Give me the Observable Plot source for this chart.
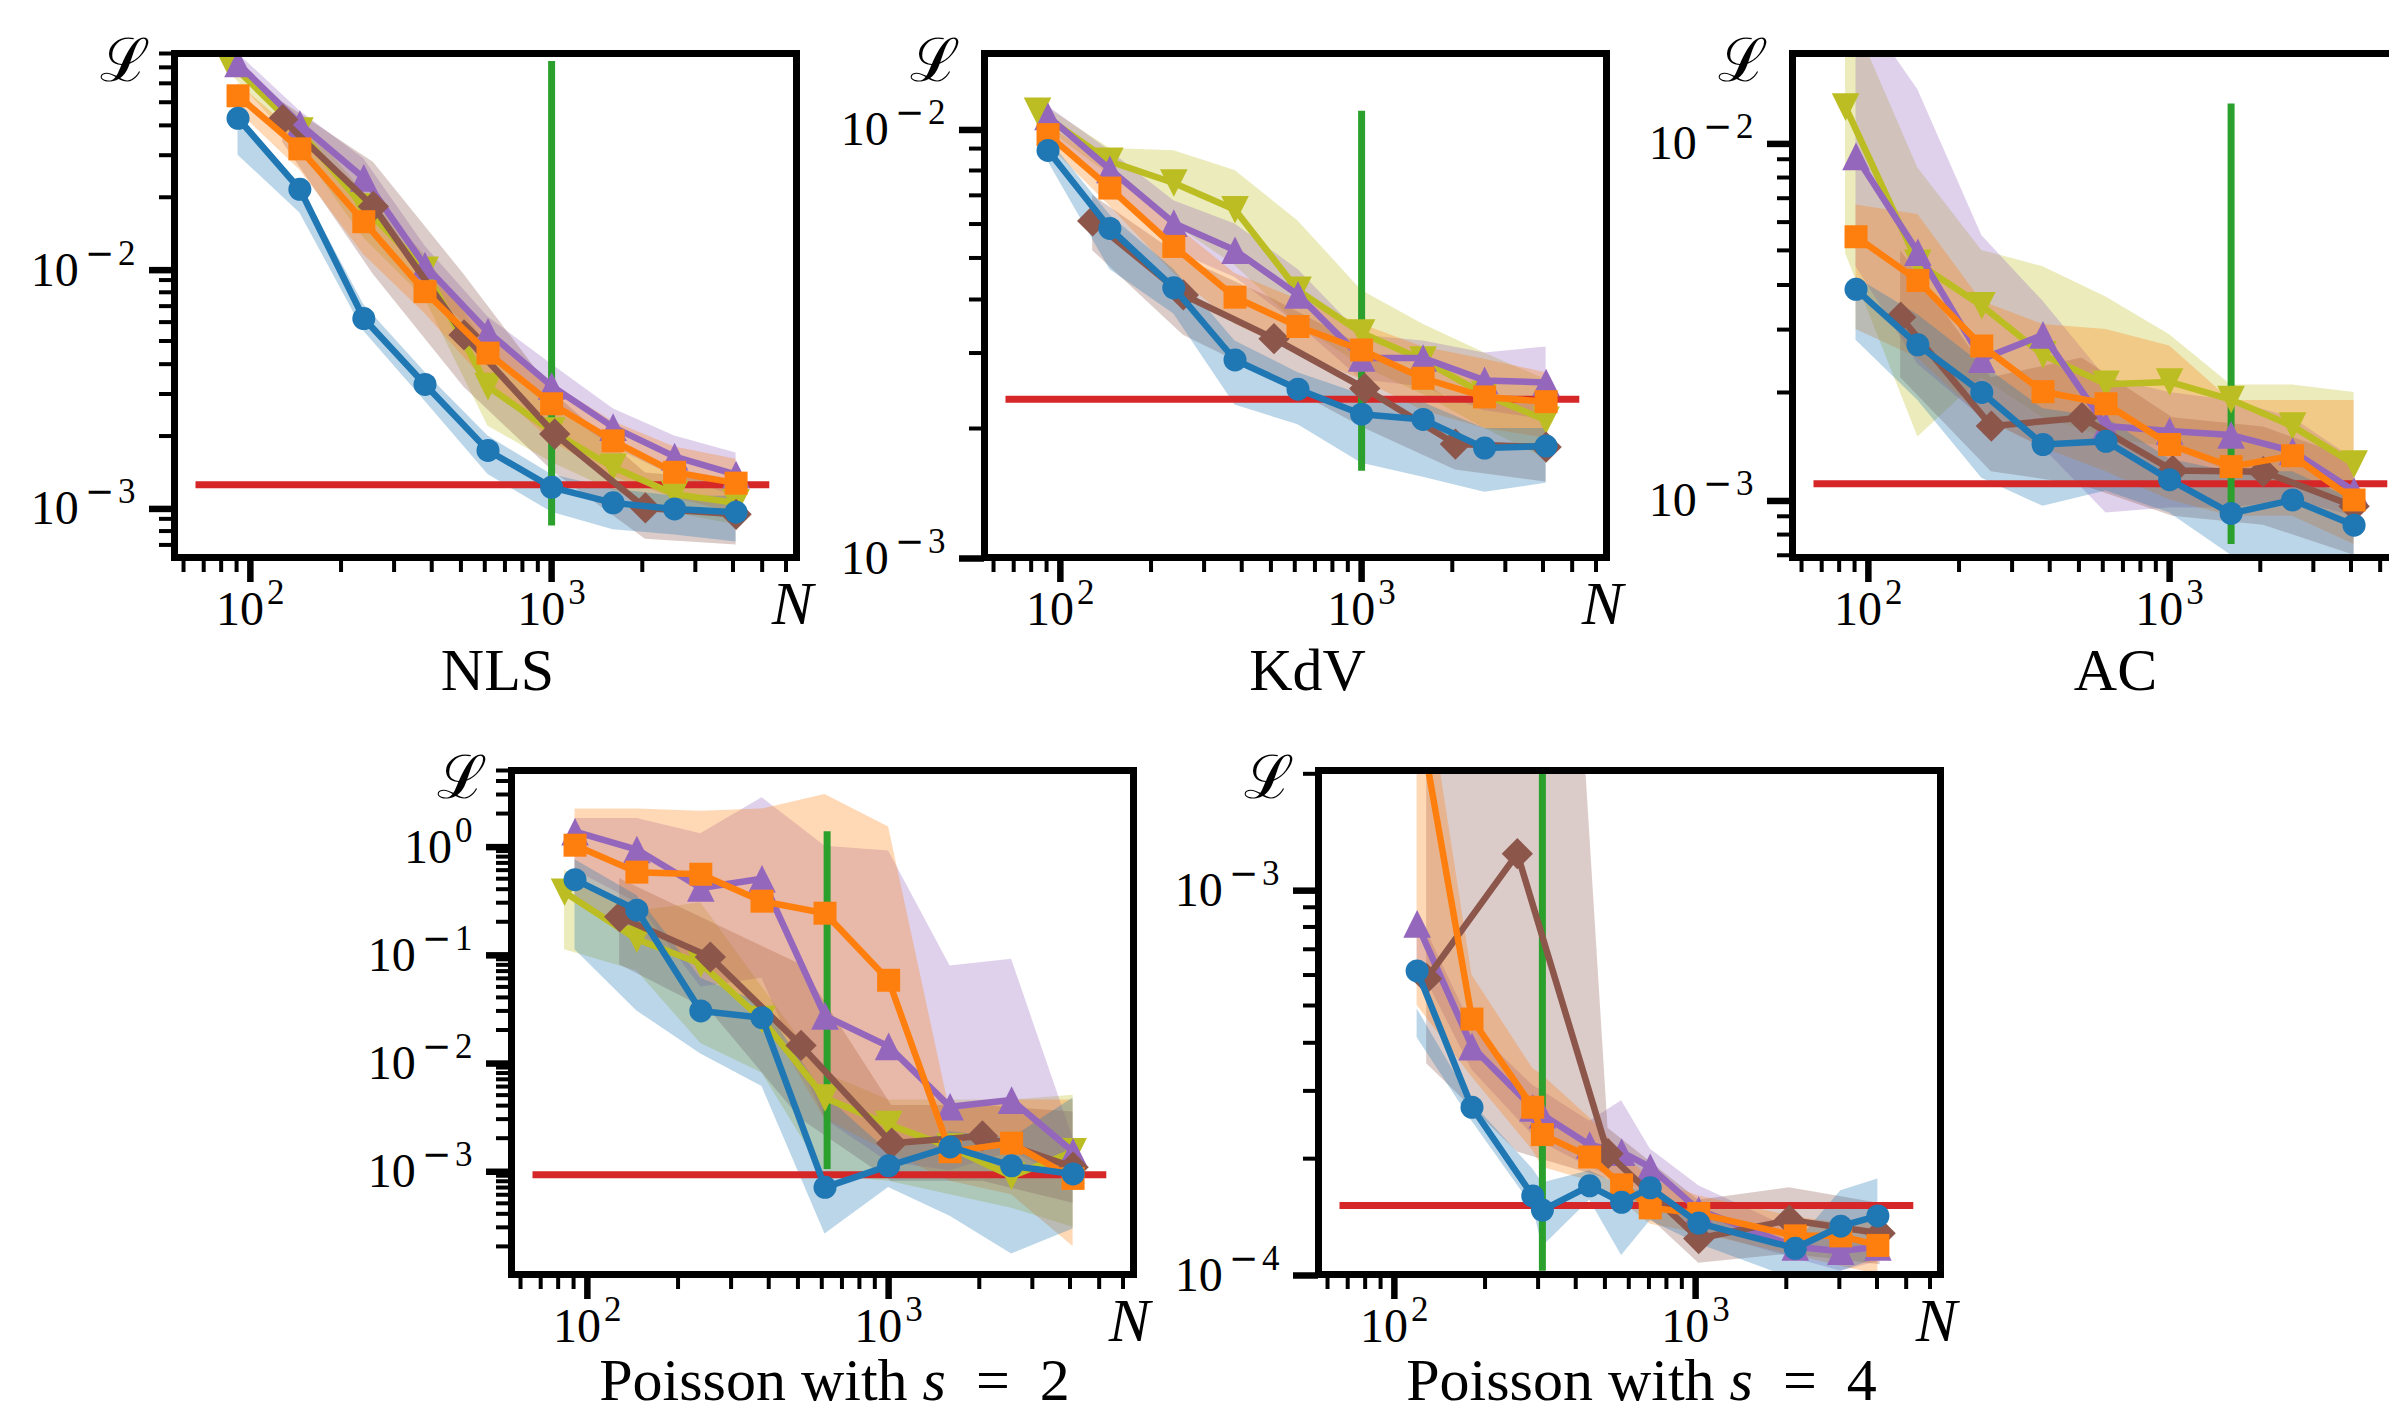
<!DOCTYPE html>
<html>
<head>
<meta charset="utf-8">
<script src="https://cdn.jsdelivr.net/npm/d3@7"></script>
<script src="https://cdn.jsdelivr.net/npm/@observablehq/plot@0.6"></script>
<style>
  html, body { margin: 0; padding: 0; background: #fff; overflow: hidden; }
  #page { position: relative; width: 2389px; height: 1415px; overflow: hidden; background: #fff; }
  .panel { position: absolute; }
  .panel svg { max-width: none !important; display: block; }
</style>
</head>
<body>
<div id="page"></div>
<script>
// ---------------- sample sizes N ----------------
const N_MAIN  = [91, 146, 238, 380, 615, 1000, 1600, 2560, 4096];
const N_OLIVE = [84, 146, 238, 380, 615, 1000, 1600, 2560, 4096];
const N_POW2  = [128, 256, 512, 1024, 2048, 4096];
const N_S4    = [119, 181, 288, 310, 445, 568, 707, 1024, 2142, 3033, 4028];

// ---------------- NLS ----------------
const nls_blue      = [0.0428, 0.0216, 0.00621, 0.00329, 0.00174, 0.00122, 0.00105, 0.00099, 0.00096];
const nls_blue_lo   = [0.030, 0.0172, 0.0055, 0.0028, 0.00138, 0.00096, 0.00081, 0.00077, 0.00072];
const nls_blue_hi   = [0.045, 0.0225, 0.0071, 0.0037, 0.0020, 0.00138, 0.00120, 0.00112, 0.00112];
const nls_orange    = [0.0532, 0.0319, 0.0158, 0.00805, 0.00445, 0.00273, 0.00191, 0.00141, 0.00127];
const nls_orange_lo = [0.046, 0.026, 0.0115, 0.0065, 0.0033, 0.0019, 0.00135, 0.0011, 0.00095];
const nls_orange_hi = [0.060, 0.036, 0.019, 0.0098, 0.0053, 0.0033, 0.0023, 0.0018, 0.0016];
const nls_purple    = [0.0726, 0.0405, 0.0241, 0.01035, 0.00546, 0.00324, 0.00218, 0.00164, 0.00138];
const nls_purple_lo = [0.066, 0.036, 0.0205, 0.0088, 0.0046, 0.0027, 0.0018, 0.00135, 0.00112];
const nls_purple_hi = [0.080, 0.046, 0.029, 0.0125, 0.0063, 0.0040, 0.0026, 0.0020, 0.0017];
const nls_olive     = [0.075, 0.0379, 0.0182, 0.0099, 0.00322, 0.0021, 0.00148, 0.00114, 0.00105];
const nls_olive_lo  = [0.068, 0.032, 0.0135, 0.0075, 0.0022, 0.00155, 0.00118, 0.00095, 0.00085];
const nls_olive_hi  = [0.082, 0.043, 0.021, 0.0115, 0.0047, 0.0027, 0.0019, 0.0014, 0.00128];
const nls_brown     = [0.0423, 0.0183, 0.0053, 0.00204, 0.00100, 0.00094];
const nls_brown_lo  = [0.034, 0.0095, 0.0032, 0.0014, 0.00074, 0.00070];
const nls_brown_hi  = [0.050, 0.028, 0.0095, 0.0030, 0.00140, 0.00130];
const nls_red = 0.00125;
const nls_green = 1000;
const nls_green_y = [0.00084, 0.074];

// ---------------- KdV ----------------
const kdv_blue      = [0.00891, 0.00586, 0.00426, 0.00289, 0.00247, 0.00216, 0.00210, 0.00180, 0.00182];
const kdv_blue_lo   = [0.0084, 0.0047, 0.0037, 0.00227, 0.00204, 0.00166, 0.00154, 0.00142, 0.00149];
const kdv_blue_hi   = [0.0095, 0.0063, 0.0047, 0.0032, 0.0027, 0.0024, 0.0023, 0.0020, 0.0020];
const kdv_orange    = [0.0097, 0.00728, 0.00532, 0.00405, 0.00346, 0.00305, 0.00262, 0.00237, 0.00231];
const kdv_orange_lo = [0.0092, 0.0066, 0.0046, 0.0035, 0.0030, 0.0026, 0.0022, 0.0020, 0.0019];
const kdv_orange_hi = [0.0103, 0.0080, 0.0060, 0.0046, 0.0040, 0.0035, 0.0031, 0.0029, 0.0027];
const kdv_purple    = [0.0107, 0.00805, 0.00603, 0.00521, 0.0041, 0.00292, 0.00292, 0.00259, 0.00256];
const kdv_purple_lo = [0.0100, 0.0072, 0.0052, 0.0045, 0.0035, 0.0026, 0.0025, 0.0022, 0.0021];
const kdv_purple_hi = [0.0113, 0.0089, 0.0068, 0.0060, 0.0047, 0.0033, 0.0032, 0.0030, 0.0031];
const kdv_olive     = [0.0110, 0.0084, 0.00748, 0.00648, 0.0042, 0.00334, 0.00289, 0.0024, 0.00209];
const kdv_olive_lo  = [0.0104, 0.0078, 0.0060, 0.0048, 0.0035, 0.0028, 0.0024, 0.0020, 0.0017];
const kdv_olive_hi  = [0.0116, 0.0090, 0.0089, 0.0080, 0.0061, 0.0042, 0.0035, 0.0030, 0.0026];
const kdv_brown     = [0.0061, 0.0041, 0.00324, 0.00248, 0.00184, 0.00181];
const kdv_brown_lo  = [0.0052, 0.0033, 0.0026, 0.0020, 0.0016, 0.0015];
const kdv_brown_hi  = [0.0070, 0.0050, 0.0040, 0.0031, 0.0023, 0.0023];
const kdv_red = 0.00234;
const kdv_green = 1000;
const kdv_green_y = [0.00159, 0.011];

// ---------------- AC ----------------
const ac_blue      = [0.00389, 0.00272, 0.0020, 0.00143, 0.00146, 0.00114, 0.000917, 0.00100, 0.00085];
const ac_blue_lo   = [0.0028, 0.0019, 0.00115, 0.00096, 0.00106, 0.00092, 0.0007, 0.00068, 0.00066];
const ac_blue_hi   = [0.0042, 0.0033, 0.0024, 0.0018, 0.0017, 0.0013, 0.0012, 0.0012, 0.0010];
const ac_orange    = [0.00546, 0.00412, 0.0027, 0.00201, 0.00186, 0.00143, 0.00124, 0.00133, 0.0010];
const ac_orange_lo = [0.0030, 0.0025, 0.0017, 0.0014, 0.0012, 0.0010, 0.0009, 0.0009, 0.00075];
const ac_orange_hi = [0.0067, 0.0063, 0.0036, 0.0031, 0.0030, 0.0027, 0.0019, 0.0019, 0.0019];
const ac_purple    = [0.00917, 0.00494, 0.00248, 0.0029, 0.00161, 0.00156, 0.00152, 0.00137, 0.00106];
const ac_purple_lo = [0.0045, 0.0024, 0.0017, 0.0014, 0.00092, 0.00095, 0.00095, 0.0010, 0.0009];
const ac_purple_hi = [0.025, 0.0141, 0.0055, 0.0036, 0.0022, 0.0020, 0.0019, 0.0017, 0.0013];
const ac_olive     = [0.0126, 0.0046, 0.0035, 0.00255, 0.00211, 0.00214, 0.00191, 0.00161, 0.00126];
const ac_olive_lo  = [0.0049, 0.0015, 0.0022, 0.0017, 0.0015, 0.0014, 0.0012, 0.0011, 0.00095];
const ac_olive_hi  = [0.025, 0.0085, 0.0050, 0.0045, 0.0037, 0.0029, 0.0021, 0.0021, 0.0020];
const ac_brown     = [0.00325, 0.00161, 0.0017, 0.00121, 0.0012, 0.00096];
const ac_brown_lo  = [0.0022, 0.0012, 0.0011, 0.00090, 0.00085, 0.00070];
const ac_brown_hi  = [0.0050, 0.0022, 0.0025, 0.0017, 0.0016, 0.0013];
const ac_red = 0.00111;
const ac_green = 1600;
const ac_green_y = [0.00075, 0.01285];

// ---------------- Poisson s = 2 ----------------
const p2_blue      = [0.49, 0.256, 0.030, 0.026, 0.000703, 0.00111, 0.00166, 0.00111, 0.000935];
const p2_blue_lo   = [0.11, 0.03, 0.012, 0.006, 0.00026, 0.0007, 0.00038, 0.00017, 0.00029];
const p2_blue_hi   = [0.75, 0.35, 0.06, 0.035, 0.005, 0.0015, 0.0023, 0.002, 0.0047];
const p2_orange    = [1.02, 0.575, 0.55, 0.31, 0.24, 0.0576, 0.0015, 0.0018, 0.00085];
const p2_orange_lo = [0.3, 0.15, 0.08, 0.03, 0.003, 0.0015, 0.0008, 0.0006, 0.0002];
const p2_orange_hi = [2.2, 2.2, 2.1, 2.2, 3.0, 1.5, 0.0035, 0.0045, 0.0045];
const p2_purple    = [1.36, 0.93, 0.41, 0.50, 0.027, 0.0141, 0.0039, 0.0045, 0.0015];
const p2_purple_lo = [0.6, 0.3, 0.05, 0.06, 0.003, 0.0012, 0.001, 0.0015, 0.0008];
const p2_purple_hi = [1.8, 1.8, 1.3, 2.8, 1.0, 0.9, 0.078, 0.09, 0.002];
const p2_olive     = [0.375, 0.138, 0.082, 0.025, 0.0047, 0.00267, 0.00166, 0.00089, 0.0015];
const p2_olive_lo  = [0.11, 0.07, 0.015, 0.008, 0.0009, 0.0008, 0.0006, 0.00045, 0.0003];
const p2_olive_hi  = [0.6, 0.25, 0.3, 0.05, 0.008, 0.0045, 0.0045, 0.0045, 0.005];
const p2_brown     = [0.222, 0.0944, 0.0144, 0.0018, 0.0021, 0.00108];
const p2_brown_lo  = [0.08, 0.03, 0.003, 0.0008, 0.0008, 0.0005];
const p2_brown_hi  = [0.5, 0.2, 0.08, 0.004, 0.004, 0.0035];
const p2_red = 0.00092;
const p2_green = 625;
const p2_green_y = [0.00103, 1.36];

// ---------------- Poisson s = 4 ----------------
const p4_blue      = [6.15e-4, 2.72e-4, 1.60e-4, 1.47e-4, 1.70e-4, 1.54e-4, 1.68e-4, 1.36e-4, 1.17e-4, 1.335e-4, 1.42e-4];
const p4_blue_lo   = [4.12e-4, 2.50e-4, 1.50e-4, 1.18e-4, 1.56e-4, 1.12e-4, 1.38e-4, 1.20e-4, 0.97e-4, 1.02e-4, 1.10e-4];
const p4_blue_hi   = [4.9e-4, 2.8e-4, 1.88e-4, 1.73e-4, 1.86e-4, 1.70e-4, 1.63e-4, 1.44e-4, 1.20e-4, 1.65e-4, 1.77e-4];
const p4_orange    = [3.0e-3, 4.61e-4, 2.72e-4, 2.31e-4, 2.02e-4, 1.71e-4, 1.49e-4, 1.44e-4, 1.26e-4, 1.26e-4, 1.19e-4];
const p4_orange_lo = [5.0e-4, 3.26e-4, 2.1e-4, 1.9e-4, 1.75e-4, 1.55e-4, 1.35e-4, 1.28e-4, 1.12e-4, 1.05e-4, 1.0e-4];
const p4_orange_hi = [5.0e-3, 6.0e-4, 3.43e-4, 3.3e-4, 2.55e-4, 2.08e-4, 1.77e-4, 1.6e-4, 1.41e-4, 1.36e-4, 1.39e-4];
const p4_purple    = [8.15e-4, 3.91e-4, 2.71e-4, 2.6e-4, 2.17e-4, 2.08e-4, 1.90e-4, 1.47e-4, 1.18e-4, 1.15e-4, 1.18e-4];
const p4_purple_lo = [6.5e-4, 3.4e-4, 2.3e-4, 2.2e-4, 1.9e-4, 1.75e-4, 1.6e-4, 1.3e-4, 1.1e-4, 1.02e-4, 1.08e-4];
const p4_purple_hi = [8.8e-4, 4.4e-4, 3.1e-4, 3.0e-4, 2.5e-4, 2.83e-4, 2.12e-4, 1.7e-4, 1.3e-4, 1.25e-4, 1.22e-4];
const p4_brown     = [5.87e-4, 1.24e-3, 2.06e-4, 1.24e-4, 1.385e-4, 1.28e-4];
const p4_brown_lo  = [3.53e-4, 2.08e-4, 1.77e-4, 1.07e-4, 1.13e-4, 1.06e-4];
const p4_brown_hi  = [3.0e-3, 1.5, 2.4e-4, 1.56e-4, 1.68e-4, 1.53e-4];
const p4_red = 1.512e-4;
const p4_green = 310;
const p4_green_y = [1.02e-4, 3.0e-3];

// ---------------- axes / labels ----------------
const X_DOMAIN = [56, 6500];
const X_MAJOR = [100, 1000];
const RED_X = [66, 5300];
const TITLES = ["NLS", "KdV", "AC", "Poisson with *s*\u2002=\u20022", "Poisson with *s*\u2002=\u20024"];

// ---------------- styling ----------------
const C = { blue: "#1f77b4", orange: "#ff7f0e", green: "#2ca02c", red: "#d62728",
            purple: "#9467bd", brown: "#8c564b", olive: "#bcbd22" };
const rad = (s) => Math.sqrt(s / Math.PI);
const SYM = {
  circle: "circle",
  square: { draw(c, s) { const r = rad(s); c.moveTo(-r, -r); c.lineTo(r, -r); c.lineTo(r, r); c.lineTo(-r, r); c.closePath(); } },
  diamond: { draw(c, s) { const r = rad(s) * 1.36; c.moveTo(0, -r); c.lineTo(r, 0); c.lineTo(0, r); c.lineTo(-r, 0); c.closePath(); } },
  triUp: { draw(c, s) { const r = rad(s) * 1.2; c.moveTo(0, -r); c.lineTo(r, r); c.lineTo(-r, r); c.closePath(); } },
  triDown: { draw(c, s) { const r = rad(s) * 1.2; c.moveTo(0, r); c.lineTo(r, -r); c.lineTo(-r, -r); c.closePath(); } }
};
const FONT = "'Liberation Serif', 'DejaVu Serif', serif";

function logTicks(domain, minor) {
  const out = [];
  const e0 = Math.floor(Math.log10(domain[0])), e1 = Math.ceil(Math.log10(domain[1]));
  for (let e = e0; e <= e1; e++) {
    for (let k = 1; k <= 9; k++) {
      if ((k === 1) === minor) continue;
      const v = +(k * Math.pow(10, e)).toPrecision(6);
      if (v >= domain[0] * 0.999 && v <= domain[1] * 1.001) out.push(v);
    }
  }
  return out;
}
const expFmt = (d) => "10|" + String(Math.round(Math.log10(d))).replace("-", "\u2212");
function rows(N, v, lo, hi) { return N.map((n, i) => ({ N: n, v: v[i], lo: lo[i], hi: hi[i] })); }

// series per panel, in drawing order (olive, purple, brown, orange, blue)
const PANEL_SERIES = {
  nls: [
    { d: rows(N_OLIVE, nls_olive, nls_olive_lo, nls_olive_hi), color: C.olive, sym: SYM.triDown },
    { d: rows(N_MAIN, nls_purple, nls_purple_lo, nls_purple_hi), color: C.purple, sym: SYM.triUp },
    { d: rows(N_POW2, nls_brown, nls_brown_lo, nls_brown_hi), color: C.brown, sym: SYM.diamond },
    { d: rows(N_MAIN, nls_orange, nls_orange_lo, nls_orange_hi), color: C.orange, sym: SYM.square },
    { d: rows(N_MAIN, nls_blue, nls_blue_lo, nls_blue_hi), color: C.blue, sym: SYM.circle }
  ],
  kdv: [
    { d: rows(N_OLIVE, kdv_olive, kdv_olive_lo, kdv_olive_hi), color: C.olive, sym: SYM.triDown },
    { d: rows(N_MAIN, kdv_purple, kdv_purple_lo, kdv_purple_hi), color: C.purple, sym: SYM.triUp },
    { d: rows(N_POW2, kdv_brown, kdv_brown_lo, kdv_brown_hi), color: C.brown, sym: SYM.diamond },
    { d: rows(N_MAIN, kdv_orange, kdv_orange_lo, kdv_orange_hi), color: C.orange, sym: SYM.square },
    { d: rows(N_MAIN, kdv_blue, kdv_blue_lo, kdv_blue_hi), color: C.blue, sym: SYM.circle }
  ],
  ac: [
    { d: rows(N_OLIVE, ac_olive, ac_olive_lo, ac_olive_hi), color: C.olive, sym: SYM.triDown },
    { d: rows(N_MAIN, ac_purple, ac_purple_lo, ac_purple_hi), color: C.purple, sym: SYM.triUp },
    { d: rows(N_POW2, ac_brown, ac_brown_lo, ac_brown_hi), color: C.brown, sym: SYM.diamond },
    { d: rows(N_MAIN, ac_orange, ac_orange_lo, ac_orange_hi), color: C.orange, sym: SYM.square },
    { d: rows(N_MAIN, ac_blue, ac_blue_lo, ac_blue_hi), color: C.blue, sym: SYM.circle }
  ],
  p2: [
    { d: rows(N_OLIVE, p2_olive, p2_olive_lo, p2_olive_hi), color: C.olive, sym: SYM.triDown },
    { d: rows(N_MAIN, p2_purple, p2_purple_lo, p2_purple_hi), color: C.purple, sym: SYM.triUp },
    { d: rows(N_POW2, p2_brown, p2_brown_lo, p2_brown_hi), color: C.brown, sym: SYM.diamond },
    { d: rows(N_MAIN, p2_orange, p2_orange_lo, p2_orange_hi), color: C.orange, sym: SYM.square },
    { d: rows(N_MAIN, p2_blue, p2_blue_lo, p2_blue_hi), color: C.blue, sym: SYM.circle }
  ],
  p4: [
    { d: rows(N_S4, p4_purple, p4_purple_lo, p4_purple_hi), color: C.purple, sym: SYM.triUp },
    { d: rows(N_POW2, p4_brown, p4_brown_lo, p4_brown_hi), color: C.brown, sym: SYM.diamond },
    { d: rows(N_S4, p4_orange, p4_orange_lo, p4_orange_hi), color: C.orange, sym: SYM.square },
    { d: rows(N_S4, p4_blue, p4_blue_lo, p4_blue_hi), color: C.blue, sym: SYM.circle }
  ]
};
const PANEL_REF = {
  nls: { red: nls_red, green: nls_green, gy: nls_green_y },
  kdv: { red: kdv_red, green: kdv_green, gy: kdv_green_y },
  ac:  { red: ac_red,  green: ac_green,  gy: ac_green_y },
  p2:  { red: p2_red,  green: p2_green,  gy: p2_green_y },
  p4:  { red: p4_red,  green: p4_green,  gy: p4_green_y }
};

const FW = 622, FH = 504, ML = 174, MT = 53, MR = 80;
const panels = [
  { key: "nls", title: TITLES[0], fl: 174,  ft: 53,  h: 720, tdy: 113, yDomain: [6.2e-4, 0.08] },
  { key: "kdv", title: TITLES[1], fl: 984,  ft: 53,  h: 720, tdy: 113, yDomain: [1e-3, 0.015] },
  { key: "ac",  title: TITLES[2], fl: 1792, ft: 53,  h: 720, tdy: 113, yDomain: [6.9e-4, 0.0178] },
  { key: "p2",  title: TITLES[3], fl: 511,  ft: 770, h: 698, tdy: 106, yDomain: [1.1e-4, 5] },
  { key: "p4",  title: TITLES[4], fl: 1318, ft: 770, h: 698, tdy: 106, yDomain: [1e-4, 2.04e-3] }
];

const SUP = "35px";
function decorate(svg) {
  d3.select(svg).selectAll("text").each(function () {
    const t = this.textContent;
    const sel = d3.select(this);
    if (t.includes("|")) {
      const [b, e] = t.split("|");
      sel.text(null);
      sel.append("tspan").text(b);
      if (e.startsWith("\u2212")) {
        sel.append("tspan").attr("dx", 6).attr("dy", -21).style("font-size", SUP)
          .style("font-family", "'DejaVu Sans', sans-serif").text("\u2212");
        sel.append("tspan").attr("dx", 4).style("font-size", SUP).text(e.slice(1));
      } else {
        sel.append("tspan").attr("dx", 3).attr("dy", -21).style("font-size", SUP).text(e);
      }
    } else if (t.includes("*")) {
      const parts = t.split("*");
      sel.text(null);
      parts.forEach((p, i) => {
        const ts = sel.append("tspan").text(p);
        if (i % 2 === 1) ts.style("font-style", "italic");
      });
    }
  });
}

const page = document.getElementById("page");
for (const p of panels) {
  const S = PANEL_SERIES[p.key];
  const R = PANEL_REF[p.key];
  const marks = [];
  for (const s of S) marks.push(Plot.areaY(s.d, { x: "N", y1: "lo", y2: "hi", fill: s.color, fillOpacity: 0.3, clip: true }));
  marks.push(Plot.ruleY([{ y: R.red, x1: RED_X[0], x2: RED_X[1] }], { y: "y", x1: "x1", x2: "x2", stroke: C.red, strokeWidth: 7, clip: true }));
  marks.push(Plot.ruleX([{ x: R.green, y1: R.gy[0], y2: R.gy[1] }], { x: "x", y1: "y1", y2: "y2", stroke: C.green, strokeWidth: 7, clip: true }));
  for (const s of S) {
    marks.push(Plot.line(s.d, { x: "N", y: "v", stroke: s.color, strokeWidth: 6.5, clip: true }));
    marks.push(Plot.dot(s.d, { x: "N", y: "v", r: 11.5, symbol: s.sym, fill: s.color, stroke: "none", clip: true }));
  }
  const xMinor = logTicks(X_DOMAIN, true);
  const yMinor = logTicks(p.yDomain, true), yMajor = logTicks(p.yDomain, false);
  marks.push(
    Plot.axisX({ ticks: xMinor, tickSize: 15, strokeWidth: 4, tickFormat: () => "", label: null }),
    Plot.axisX({ ticks: X_MAJOR, tickSize: 25, strokeWidth: 6.5, tickPadding: 8, fontSize: 48, tickFormat: expFmt, label: null }),
    Plot.axisY({ ticks: yMinor, tickSize: 15, strokeWidth: 4, tickFormat: () => "", label: null }),
    Plot.axisY({ ticks: yMajor, tickSize: 25, strokeWidth: 6.5, tickPadding: 14, dy: 1, fontSize: 48, tickFormat: expFmt, label: null }),
    Plot.frame({ stroke: "black", strokeWidth: 7 }),
    Plot.text(["\u2112"], { text: (d) => d, frameAnchor: "top-left", textAnchor: "middle", lineAnchor: "middle", dx: -50, dy: 8, fontSize: 60, fontFamily: "'DejaVu Serif', serif" }),
    Plot.text(["N"], { text: (d) => d, frameAnchor: "bottom-right", textAnchor: "middle", lineAnchor: "middle", dx: -4, dy: 47, fontSize: 62, fontStyle: "italic" }),
    Plot.text([p.title], { text: (d) => d, frameAnchor: "bottom", textAnchor: "middle", lineAnchor: "middle", dx: 12, dy: p.tdy, fontSize: 60 })
  );
  const W = ML + FW + MR;
  const svg = Plot.plot({
    width: W, height: p.h,
    marginLeft: ML, marginTop: MT, marginRight: MR, marginBottom: p.h - MT - FH,
    x: { type: "log", domain: X_DOMAIN },
    y: { type: "log", domain: p.yDomain },
    style: { fontFamily: FONT, background: "transparent", overflow: "visible", maxWidth: "none", color: "black" },
    marks
  });
  decorate(svg);
  const div = document.createElement("div");
  div.className = "panel";
  div.style.left = (p.fl - ML) + "px";
  div.style.top = (p.ft - MT) + "px";
  div.style.width = W + "px";
  div.style.height = p.h + "px";
  div.appendChild(svg);
  page.appendChild(div);
}
</script>
</body>
</html>
